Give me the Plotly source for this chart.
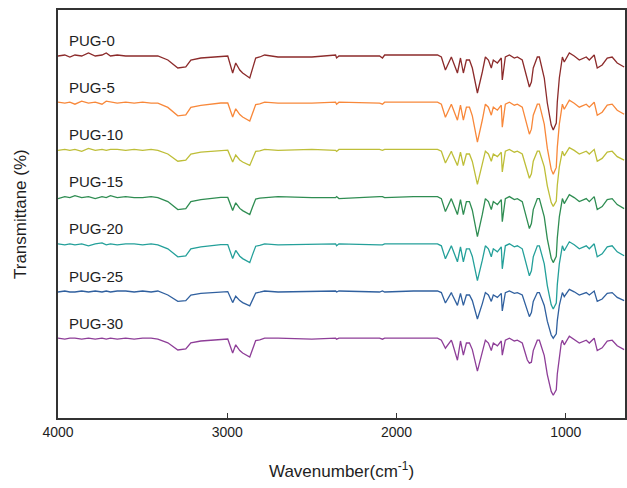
import plotly.graph_objects as go

# Wavenumber grid (cm^-1)
wavenumber = [4000, 3960, 3930, 3900, 3860, 3820, 3780, 3740, 3715, 3690, 3650, 3600, 3550, 3500, 3450, 3410,
              3351, 3292, 3245, 3215, 3156,
              3038, 2997, 2968, 2950, 2926, 2909, 2867, 2850, 2832, 2808,
              2779, 2700, 2500, 2360, 2354, 2340, 2100, 2083, 2070, 1900, 1758,
              1735, 1711, 1676, 1670, 1640, 1622, 1605, 1587, 1569,
              1552, 1522, 1493,
              1475, 1457, 1440, 1428, 1404, 1381, 1375, 1357, 1333, 1304, 1286, 1257, 1227, 1215, 1203, 1192, 1168, 1156,
              1127, 1109, 1086, 1074, 1056, 1050, 1038, 1027,
              1020, 1009, 979, 950, 920, 879, 861, 832, 814, 785, 755, 726, 696, 655]

# Transmittance (%) for each sample
pug_0 = [99.5, 100, 99, 100, 99.5, 101, 99.5, 100, 101, 99.5, 100, 99.5, 99.5, 99.5, 99.5, 99.5,
         97.5, 93.5, 94, 97.5, 98.5,
         99.5, 99.5, 91, 96, 92.5, 91, 88.5, 93.5, 98.5, 99,
         100, 99, 99, 100, 98.5, 99.5, 99.5, 98.5, 100, 100, 100,
         99, 92.5, 99, 97.5, 91, 98.5, 91, 97.5, 97.5,
         93.5, 81, 91.5,
         99, 97.5, 93.5, 97.5, 96, 98.5, 87.5, 99, 100, 98.5, 99, 97.5, 88.5, 84, 86.5, 93.5, 99, 99,
         88.5, 76, 65, 62.5, 66, 76.5, 88.5, 96.5,
         99, 96.5, 101, 99.5, 97.5, 99, 97.5, 100, 93.5, 95, 98.5, 99, 96, 94]

pug_5 = [100, 99.5, 100, 99, 100.5, 99.5, 100, 99, 100.5, 100, 99.5, 100, 99.5, 100, 99.5, 99.5,
         97.4, 93.2, 93.7, 97.4, 98.4,
         99.6, 99.6, 92.6, 96.7, 93.8, 92.6, 90.6, 94.7, 98.8, 99.2,
         100, 99.5, 99.5, 100, 99, 100, 99.5, 99, 100, 100, 100,
         99, 92.5, 99, 97.5, 91, 98.5, 91, 97.5, 97.5,
         93.2, 80, 91.1,
         99, 97.5, 93.5, 97.5, 96, 98.5, 87.5, 99, 100, 98.5, 99, 97.5, 88.5, 84, 86.5, 93.5, 99, 99,
         89, 77, 66.4, 64, 67.4, 77.4, 89, 96.6,
         99, 96.5, 101, 99.5, 97.5, 99, 97.5, 100, 93.5, 95, 98.5, 99, 96, 94]

pug_10 = [99.5, 100, 99.5, 100, 99, 100.5, 99.5, 100, 99.5, 100, 100, 99.5, 100, 99.5, 100, 99.5,
          97.7, 94.1, 94.6, 97.7, 98.6,
          99.6, 99.6, 93.7, 97.2, 94.7, 93.7, 92, 95.4, 99, 99.3,
          100, 99.5, 100, 99.5, 99, 100, 100, 99.5, 100, 100, 100,
          99.1, 93.2, 99.1, 97.7, 91.9, 98.6, 91.9, 97.7, 97.7,
          94, 82.5, 92.2,
          99.1, 97.7, 94.1, 97.7, 96.4, 98.6, 88.7, 99.1, 100, 98.6, 99.1, 97.7, 89.6, 85.6, 87.8, 94.1, 99.1, 99.1,
          91.3, 81.8, 73.4, 71.5, 74.2, 82.1, 91.3, 97.3,
          99.1, 96.8, 100.9, 99.5, 97.7, 99.1, 97.7, 100, 94.1, 95.5, 98.6, 99.1, 96.4, 94.6]

pug_15 = [99, 100, 99.5, 100.5, 99.5, 100, 99, 100, 99.5, 100.5, 99.5, 100, 99.5, 99.5, 100, 99.5,
          97.5, 93.5, 94, 97.5, 98.5,
          99.6, 99.6, 93, 96.9, 94.1, 93, 91, 94.9, 98.8, 99.2,
          99.5, 100, 99.5, 99.5, 100, 99, 100, 100, 99.5, 100, 100,
          99, 92.5, 99, 97.5, 91, 98.5, 91, 97.5, 97.5,
          93.2, 80, 91.1,
          99, 97.5, 93.5, 97.5, 96, 98.5, 87.5, 99, 100, 98.5, 99, 97.5, 88.5, 84, 86.5, 93.5, 99, 99,
          89.9, 78.9, 69.2, 67, 70.1, 79.3, 89.9, 96.9,
          99, 96.5, 101, 99.5, 97.5, 99, 97.5, 100, 93.5, 95, 98.5, 99, 96, 94]

pug_20 = [100, 99.5, 100, 99.5, 100, 99, 100, 100.5, 99.5, 100, 99.5, 100, 100, 99.5, 100, 99.5,
          97.5, 93.5, 94, 97.5, 98.5,
          99.6, 99.6, 92.6, 96.7, 93.8, 92.6, 90.6, 94.7, 98.8, 99.2,
          100, 99.5, 100, 100, 99, 100, 99.5, 99.5, 100, 100, 100,
          99, 92.5, 99, 97.5, 91, 98.5, 91, 97.5, 97.5,
          93.7, 81.6, 91.8,
          99, 97.5, 93.5, 97.5, 96, 98.5, 87.5, 99, 100, 98.5, 99, 97.5, 88.5, 84, 86.5, 93.5, 99, 99,
          90, 79.1, 69.5, 67.4, 70.4, 79.6, 90, 97,
          99, 96.5, 101, 99.5, 97.5, 99, 97.5, 100, 93.5, 95, 98.5, 99, 96, 94]

pug_25 = [99.5, 100, 99.5, 99.5, 100, 99.5, 100, 99.5, 100, 99.5, 100, 100, 99.5, 100, 99.5, 100,
          98, 94.8, 95.2, 98, 98.8,
          99.7, 99.7, 94.2, 97.4, 95.2, 94.2, 92.6, 95.8, 99, 99.4,
          100, 99.5, 100, 100, 99.5, 100, 99.5, 100, 99.5, 100, 100,
          99.2, 94, 99.2, 98, 92.8, 98.8, 92.8, 98, 98,
          95.2, 86, 93.7,
          99.2, 98, 94.8, 98, 96.8, 98.8, 90, 99.2, 100, 98.8, 99.2, 98, 90.8, 87.2, 89.2, 94.8, 99.2, 99.2,
          92.8, 84.9, 78, 76.4, 78.6, 85.2, 92.8, 97.8,
          99.2, 97.2, 100.8, 99.6, 98, 99.2, 98, 100, 94.8, 96, 98.8, 99.2, 96.8, 95.2]

pug_30 = [100, 99.5, 100, 100, 99.5, 100, 99.5, 100, 99.5, 100, 99.5, 100, 99.5, 100, 100, 99.5,
          97.7, 94.1, 94.6, 97.7, 98.6,
          99.6, 99.6, 92.6, 96.7, 93.8, 92.6, 90.6, 94.7, 98.8, 99.2,
          100, 100, 99.5, 100, 99.5, 100, 100, 99.5, 100, 100, 100,
          99, 95, 99, 97.6, 89, 98.6, 91.5, 97.6, 97.6,
          94.3, 83.5, 92.6,
          99, 97.6, 93.8, 97.6, 96.2, 98.6, 91.5, 99, 100, 98.6, 99, 97.6, 89.1, 87.5, 88, 93.8, 99, 99,
          91.3, 81.8, 73.4, 71.5, 74.2, 82.1, 91.3, 97.3,
          99, 96.7, 101, 99.5, 97.6, 99, 97.6, 100, 93.8, 95.2, 98.6, 99, 96.2, 94.3]

labels = ["PUG-0", "PUG-5", "PUG-10", "PUG-15", "PUG-20", "PUG-25", "PUG-30"]
series = [pug_0, pug_5, pug_10, pug_15, pug_20, pug_25, pug_30]
colors = ["#8c2b2b", "#f8883a", "#bebe38", "#2f8d52", "#24a09a", "#30609f", "#8e3e98"]
offsets = [81.5, 57.9, 34.3, 10.7, -12.9, -36.5, -60.1]
x_ticks = [4000, 3000, 2000, 1000]

TEXT = "#1e1e1e"
fig = go.Figure()
for name, t, c, off in zip(labels, series, colors, offsets):
    fig.add_trace(go.Scatter(x=wavenumber, y=[v + off for v in t], mode="lines",
                             line=dict(color=c, width=1.3), name=name, showlegend=False,
                             hoverinfo="skip"))
    fig.add_annotation(x=3945, y=off + 107.5, text=name, showarrow=False, xanchor="left",
                       yanchor="middle", font=dict(size=15, color=TEXT))

# axis titles
fig.add_annotation(xref="paper", yref="paper", x=0.5, y=-0.127, text="Wavenumber(cm<sup>-1</sup>)",
                   showarrow=False, xanchor="center", yanchor="middle",
                   font=dict(size=17, color=TEXT))
fig.add_annotation(xref="paper", yref="paper", x=-0.067, y=0.5, text="Transmittane (%)",
                   showarrow=False, xanchor="center", yanchor="middle", textangle=-90,
                   font=dict(size=17, color=TEXT))

axis_line = dict(showline=True, linecolor="#333333", linewidth=1.5, mirror=True,
                 showgrid=False, zeroline=False, automargin=False)
fig.update_xaxes(range=[4000, 650], tickvals=x_ticks, ticktext=[str(v) for v in x_ticks],
                 ticks="inside", ticklen=5, tickwidth=1.2, tickcolor="#333333",
                 tickfont=dict(size=14, color=TEXT), **axis_line)
fig.update_yaxes(range=[0, 204], showticklabels=False, ticks="", **axis_line)
fig.update_layout(width=627, height=488, margin=dict(l=58, r=2, t=10, b=70),
                  paper_bgcolor="white", plot_bgcolor="white",
                  font=dict(family="Arial, Liberation Sans, sans-serif"))
fig.write_html("out.html", config={"displayModeBar": False},
               post_script="document.body.style.margin='0';document.body.style.overflow='hidden';")
